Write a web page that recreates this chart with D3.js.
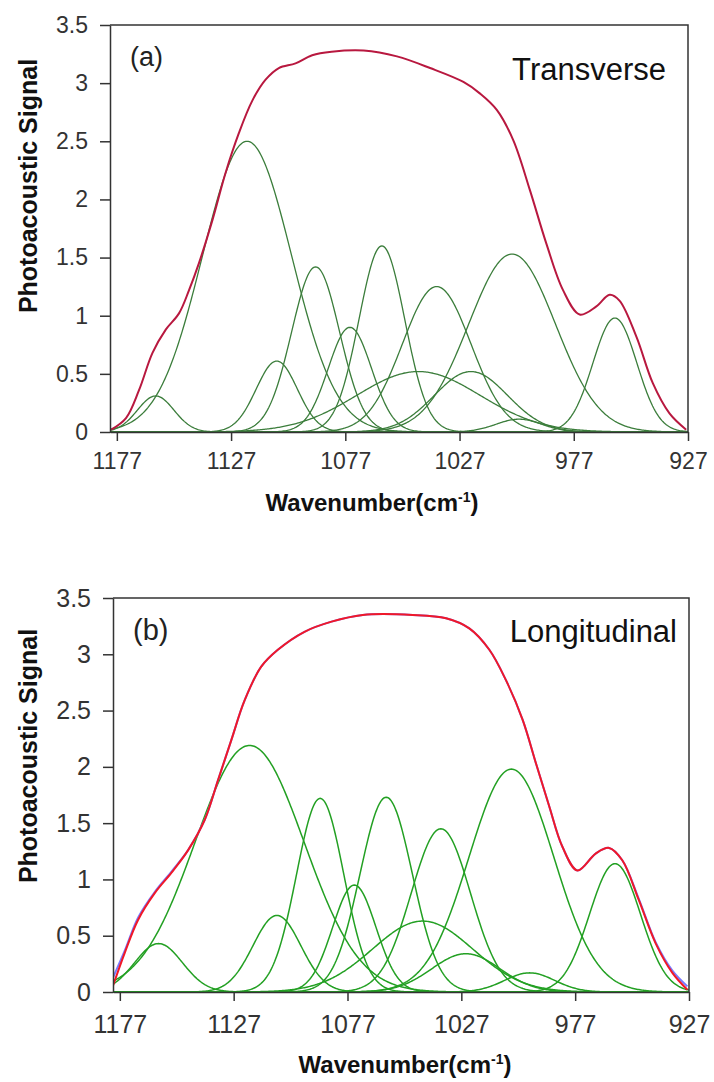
<!DOCTYPE html>
<html>
<head>
<meta charset="utf-8">
<script src="https://cdn.jsdelivr.net/npm/d3@7"></script>
<style>
body{margin:0;background:#fff;}
svg{display:block;font-family:"Liberation Sans",Arial,sans-serif;}
</style>
</head>
<body>
<div id="chart"></div>
<script>
// axis ticks
var wavenumberTicks = [1177, 1127, 1077, 1027, 977, 927];
var signalTicks = [0, 0.5, 1, 1.5, 2, 2.5, 3, 3.5];

// (a) transverse - fitted bands (position, height, width)
var transCenters = [1160, 1120, 1107, 1090, 1075, 1061, 1045, 1037, 1022, 1004, 1001, 959];
var transHeights = [0.31, 2.50, 0.61, 1.42, 0.90, 1.60, 0.52, 1.25, 0.52, 1.53, 0.11, 0.98];
var transSigmas  = [8, 19.5, 9, 10.5, 9.5, 10, 27, 15, 16, 19, 10, 9.6];

// (a) measured spectrum
var transEnvWn  = [1179.5, 1173, 1167.3, 1161.4, 1155.6, 1149.8, 1145.4, 1141.1, 1135.2, 1129.4, 1123.6, 1117.7, 1111.9, 1106.1, 1098.8, 1091.5, 1083, 1069, 1054.4, 1039.9, 1025.3, 1018, 1010.7, 1003.5, 996.2, 989, 981.7, 974.4, 967.1, 961.3, 957, 949.6, 942.4, 935.1, 927.8];
var transEnvVal = [0.02, 0.12, 0.36, 0.68, 0.88, 1.02, 1.22, 1.45, 1.82, 2.23, 2.57, 2.85, 3.03, 3.13, 3.17, 3.24, 3.27, 3.28, 3.23, 3.13, 3.01, 2.91, 2.77, 2.51, 2.08, 1.62, 1.22, 1.01, 1.08, 1.18, 1.13, 0.82, 0.42, 0.16, 0.02];

// (b) longitudinal - fitted bands
var longCenters = [1160, 1120, 1108, 1089, 1074, 1060, 1044, 1036, 1025, 1005, 997, 959.5];
var longHeights = [0.43, 2.19, 0.68, 1.72, 0.95, 1.73, 0.63, 1.45, 0.34, 1.98, 0.17, 1.14];
var longSigmas  = [10.5, 24, 10.5, 10.4, 9.5, 11.5, 22, 13, 15, 18.6, 11, 11.2];

// (b) measured spectrum (blue) and fit sum (red)
var longEnvWn   = [1180.6, 1174.8, 1169, 1161.6, 1154.3, 1147, 1139.7, 1133.9, 1128, 1122.2, 1114.9, 1107.6, 1095.9, 1084, 1070.3, 1048.4, 1033.7, 1023.5, 1014.7, 1007.4, 1000.1, 994.2, 988.4, 982.6, 976, 968, 962.1, 956.3, 949.1, 941.6, 934.3, 927.7];
var longFitVal  = [0.02, 0.35, 0.64, 0.88, 1.06, 1.26, 1.53, 1.88, 2.24, 2.59, 2.89, 3.04, 3.20, 3.29, 3.35, 3.35, 3.32, 3.23, 3.04, 2.77, 2.42, 2.03, 1.65, 1.29, 1.08, 1.23, 1.28, 1.17, 0.82, 0.43, 0.17, 0.02];
var longMeasVal = [0.10, 0.37, 0.66, 0.89, 1.07, 1.26, 1.53, 1.88, 2.24, 2.59, 2.89, 3.04, 3.20, 3.29, 3.35, 3.35, 3.32, 3.23, 3.04, 2.77, 2.42, 2.03, 1.65, 1.29, 1.08, 1.23, 1.28, 1.17, 0.83, 0.44, 0.19, 0.05];

var svg = d3.select("#chart").append("svg")
    .attr("width", 714)
    .attr("height", 1082);

function bandCurve(c, h, s){
    return d3.range(927, 1180.01, 0.5).map(function(w){
        return [w, h * Math.exp(-(w - c) * (w - c) / (2 * s * s))];
    });
}

function drawPanel(p){
    var x = d3.scaleLinear().domain([1180, 927]).range([p.left, p.right]);
    var y = d3.scaleLinear().domain([0, 3.5]).range([p.bottom, p.top]);
    var g = svg.append("g");

    var clipId = "clip" + p.id;
    g.append("clipPath").attr("id", clipId)
        .append("rect")
        .attr("x", p.left).attr("y", p.top - 2)
        .attr("width", p.right - p.left).attr("height", p.bottom - p.top + 3);

    var line = d3.line()
        .x(function(d){ return x(d[0]); })
        .y(function(d){ return y(d[1]); })
        .curve(d3.curveCatmullRom.alpha(0.5));

    var plot = g.append("g").attr("clip-path", "url(#" + clipId + ")");

    // frame top / right
    g.append("path")
        .attr("d", "M" + p.left + "," + p.top + "H" + p.right + "V" + p.bottom)
        .attr("fill", "none").attr("stroke", "#333").attr("stroke-width", 1.5);

    var yAxis = g.append("g")
        .attr("transform", "translate(" + p.left + ",0)")
        .call(d3.axisLeft(y).tickValues(signalTicks).tickFormat(d3.format(""))
            .tickSize(10).tickPadding(12).tickSizeOuter(0));
    var xAxis = g.append("g")
        .attr("transform", "translate(0," + p.bottom + ")")
        .call(d3.axisBottom(x).tickValues(wavenumberTicks).tickFormat(d3.format("d"))
            .tickSize(9).tickPadding(p.xPad).tickSizeOuter(0));
    [xAxis, yAxis].forEach(function(a){
        a.select(".domain").attr("stroke", "#333").attr("stroke-width", 1.5);
        a.selectAll(".tick line").attr("stroke", "#333").attr("stroke-width", 1.5);
        a.selectAll(".tick text").attr("fill", "#333")
            .style("font-size", p.tickFont + "px");
    });

    // bands
    p.centers.forEach(function(c, i){
        plot.append("path")
            .datum(bandCurve(c, p.heights[i], p.sigmas[i]))
            .attr("fill", "none")
            .attr("stroke", p.green)
            .attr("stroke-width", p.bandWidth)
            .attr("d", d3.line().x(function(d){ return x(d[0]); }).y(function(d){ return y(d[1]); }));
    });

    if (p.measVal){
        plot.append("path")
            .datum(p.envWn.map(function(w, i){ return [w, p.measVal[i]]; }))
            .attr("fill", "none").attr("stroke", "#7a7aff").attr("stroke-width", 2)
            .attr("d", line);
    }
    plot.append("path")
        .datum(p.envWn.map(function(w, i){ return [w, p.envVal[i]]; }))
        .attr("fill", "none").attr("stroke", p.red).attr("stroke-width", 2)
        .attr("d", line);

    g.append("text").attr("x", p.left + 20).attr("y", p.tagY)
        .style("font-size", p.tagFont + "px").attr("fill", "#222").text(p.tag);
    g.append("text").attr("x", p.nameX).attr("y", p.nameY)
        .attr("text-anchor", "end")
        .style("font-size", "31px").attr("fill", "#111").text(p.name);

    g.append("text")
        .attr("transform", "translate(37," + p.yTitleY + ") rotate(-90)")
        .attr("text-anchor", "middle")
        .style("font-size", "25px").style("font-weight", "bold").attr("fill", "#111")
        .text("Photoacoustic Signal");

    var xt = g.append("text")
        .attr("x", p.xTitleX).attr("y", p.xTitleY)
        .attr("text-anchor", "middle")
        .style("font-size", "24px").style("font-weight", "bold").attr("fill", "#111");
    xt.append("tspan").text("Wavenumber(cm");
    xt.append("tspan").attr("dy", -9).style("font-size", "14px").text("-1");
    xt.append("tspan").attr("dy", 9).text(")");
}

drawPanel({
    id: "a", left: 110, right: 688, top: 25, bottom: 432,
    centers: transCenters, heights: transHeights, sigmas: transSigmas,
    envWn: transEnvWn, envVal: transEnvVal,
    green: "#3b7d3b", red: "#b8183f", bandWidth: 1.3,
    tickFont: 23, xPad: 12,
    tag: "(a)", tagY: 66, tagFont: 27,
    name: "Transverse", nameX: 666, nameY: 80,
    yTitleY: 186, xTitleX: 372, xTitleY: 511
});

drawPanel({
    id: "b", left: 113, right: 689, top: 598, bottom: 992,
    centers: longCenters, heights: longHeights, sigmas: longSigmas,
    envWn: longEnvWn, envVal: longFitVal, measVal: longMeasVal,
    green: "#23a023", red: "#f01828", bandWidth: 1.5,
    tickFont: 25, xPad: 14,
    tag: "(b)", tagY: 640, tagFont: 29,
    name: "Longitudinal", nameX: 677, nameY: 642,
    yTitleY: 756, xTitleX: 405, xTitleY: 1073
});
</script>
</body>
</html>
